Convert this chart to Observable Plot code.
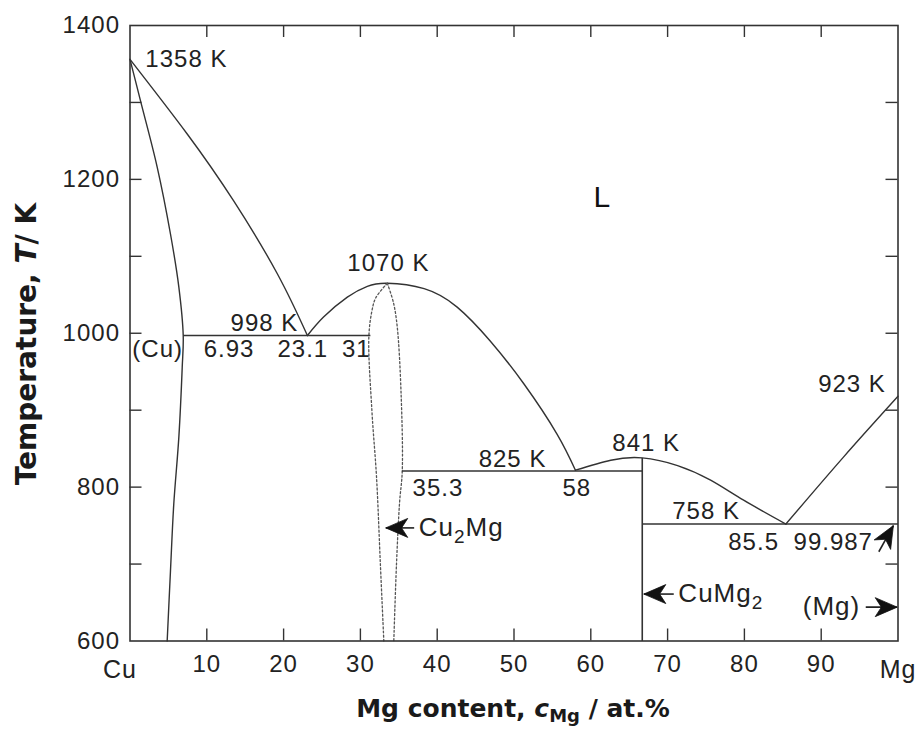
<!DOCTYPE html>
<html>
<head>
<meta charset="utf-8">
<script src="https://cdn.jsdelivr.net/npm/d3@7"></script>
<script src="https://cdn.jsdelivr.net/npm/@observablehq/plot@0.6"></script>
<style>
  html, body { margin: 0; padding: 0; background: #fff; }
  #wrap { position: relative; width: 922px; height: 738px; overflow: hidden; }
  #ytitle { position: absolute; left: 26px; top: 344px; transform: translate(-50%, -50%) rotate(-90deg);
    font-family: "DejaVu Sans", sans-serif; font-weight: bold; font-size: 28px; white-space: nowrap; color: #1a1a1a; }
  #xtitle { position: absolute; left: 513px; top: 696px; transform: translateX(-50%);
    font-family: "DejaVu Sans", sans-serif; font-weight: bold; font-size: 25px; white-space: nowrap; color: #1a1a1a; line-height: 1; }
  #xtitle sub { font-size: 0.72em; vertical-align: -0.3em; line-height: 0; }
</style>
</head>
<body>
<div id="wrap">
  <div id="chart"></div>
  <div id="ytitle">Temperature, <i>T</i>/ K</div>
  <div id="xtitle">Mg content, <i>c</i><sub>Mg</sub> / at.%</div>
</div>
<script>
// ---------- data (Mg content in at.%, temperature in K) ----------
const xTicks = [10, 20, 30, 40, 50, 60, 70, 80, 90];
const yTickLabels = [600, 800, 1000, 1200, 1400];
const yTicks = [700, 800, 900, 1000, 1100, 1200, 1300];
const cuEnd = [{x: 0, label: "Cu"}];
const mgEnd = [{x: 100, label: "Mg"}];

// liquidus of (Cu)
const cuLiquidus = [[0, 1356], [7.45, 1259], [13.5, 1172], [19.2, 1077], [23.1, 997]];
// solidus + solvus of (Cu)
const cuSolidusSolvus = [[0, 1356], [1.37, 1302], [3.54, 1216], [5.27, 1129], [6.36, 1060], [6.93, 997],
  [6.8, 956], [6.36, 865], [5.7, 778], [5.27, 691], [4.84, 600]];
// liquidus of Cu2Mg
const cu2mgLiquidus = [[23.1, 997], [25.2, 1021], [28.3, 1047], [30.9, 1061], [33.5, 1065], [38.3, 1058],
  [42.6, 1034], [46.9, 990], [51.3, 934], [55.6, 869], [58, 822]];
// liquidus of CuMg2
const cumg2Liquidus = [[58, 822], [62.6, 835], [66.7, 838], [71.3, 828], [75.6, 809], [79.9, 783], [85.4, 752]];
// liquidus of (Mg)
const mgLiquidus = [[85.4, 752], [92.9, 839], [100, 918]];
// Cu2Mg homogeneity range (dotted)
const lensLeft = [[33.5, 1065], [32.0, 1046], [31.5, 1029], [31.1, 995], [31.5, 899], [32.1, 813], [32.6, 700], [33.05, 600]];
const lensRight = [[33.5, 1065], [34.3, 1040], [34.8, 1008], [35.3, 921], [35.45, 821], [35.1, 780], [34.7, 700], [34.35, 600]];

// invariant reactions
const invariantLines = [
  {x1: 6.93, x2: 31.3, t: 997},
  {x1: 35.4, x2: 66.7, t: 821},
  {x1: 66.7, x2: 100, t: 752}
];
const compoundLines = [{x: 66.7, t1: 600, t2: 838}];

// annotations
const labels = [
  {text: "1358 K", x: 2.0, t: 1356},
  {text: "1070 K", x: 28.3, t: 1091},
  {text: "998 K", x: 13.1, t: 1013},
  {text: "(Cu)", x: 0.3, t: 979},
  {text: "6.93", x: 9.6, t: 979},
  {text: "23.1", x: 19.2, t: 979},
  {text: "31", x: 27.6, t: 979},
  {text: "923 K", x: 89.6, t: 933},
  {text: "825 K", x: 45.4, t: 836},
  {text: "841 K", x: 62.8, t: 857},
  {text: "35.3", x: 36.8, t: 799},
  {text: "58", x: 56.3, t: 799},
  {text: "758 K", x: 70.6, t: 769},
  {text: "85.5", x: 77.9, t: 728},
  {text: "99.987", x: 86.4, t: 728}
];
const phaseLabels = [
  {text: "Cu_2Mg", x: 37.6, t: 747},
  {text: "CuMg_2", x: 71.4, t: 661},
  {text: "(Mg)", x: 87.6, t: 644}
];
const liquidLabel = [{text: "L", x: 61.5, t: 1177}];

const arrows = [
  {x1: 37.0, t1: 747, x2: 33.3, t2: 747, angle: 180},
  {x1: 70.8, t1: 661, x2: 66.9, t2: 661, angle: 180},
  {x1: 95.8, t1: 644, x2: 99.9, t2: 644, angle: 0},
  {x1: 97.5, t1: 716, x2: 99.4, t2: 750, angle: -60}
];

// ---------- drawing ----------
const FONT = "'Liberation Sans', Arial, Helvetica, sans-serif";
const INK = "#333";
const TXT = "#222";

function arrowHead(angleDeg) {
  const a = angleDeg * Math.PI / 180, c = Math.cos(a), s = Math.sin(a);
  const L = 22, W = 19;
  const pts = [[0, 0], [-L, -W / 2], [-0.72 * L, 0], [-L, W / 2]].map(([px, py]) => [px * c - py * s, px * s + py * c]);
  return {
    draw(ctx) {
      ctx.moveTo(pts[0][0], pts[0][1]);
      for (let i = 1; i < pts.length; i++) ctx.lineTo(pts[i][0], pts[i][1]);
      ctx.closePath();
    }
  };
}

const curve = (data, extra = {}) => Plot.line(data, {x: d => d[0], y: d => d[1], curve: "natural", stroke: INK, strokeWidth: 1.4, ...extra});

const chart = Plot.plot({
  width: 922,
  height: 690,
  marginLeft: 129.5,
  marginRight: 24.5,
  marginTop: 25,
  marginBottom: 49.5,
  x: {domain: [0, 100], axis: null},
  y: {domain: [600, 1400], axis: null},
  style: {fontFamily: FONT, fontSize: "24px", letterSpacing: "1px", background: "#fff", overflow: "visible"},
  marks: [
    // inward ticks
    Plot.ruleX(xTicks, {x: d => d, y1: 600, y2: 600, insetBottom: 12, stroke: INK, strokeWidth: 1.4}),
    Plot.ruleX(xTicks, {x: d => d, y1: 1400, y2: 1400, insetTop: 12, stroke: INK, strokeWidth: 1.4}),
    Plot.ruleY(yTicks, {y: d => d, x1: 0, x2: 0, insetLeft: 12, stroke: INK, strokeWidth: 1.4}),
    Plot.ruleY(yTicks, {y: d => d, x1: 100, x2: 100, insetRight: 12, stroke: INK, strokeWidth: 1.4}),
    // tick labels
    Plot.text(xTicks, {x: d => d, y: 600, text: d => String(d), lineAnchor: "top", dy: 14, fontSize: 24, fill: TXT}),
    Plot.text(cuEnd, {x: "x", y: 600, text: "label", dx: -10, lineAnchor: "top", dy: 19, fontSize: 25, fill: TXT}),
    Plot.text(mgEnd, {x: "x", y: 600, text: "label", dx: 0, lineAnchor: "top", dy: 19, fontSize: 25, fill: TXT}),
    Plot.text(yTickLabels, {x: 0, y: d => d, text: d => String(d), textAnchor: "end", dx: -10, lineAnchor: "middle", fontSize: 24, fill: TXT}),
    // phase boundaries
    curve(cuLiquidus),
    curve(cuSolidusSolvus, {curve: "catmull-rom"}),
    curve(cu2mgLiquidus),
    curve(cumg2Liquidus),
    curve(mgLiquidus),
    curve(lensLeft, {curve: "catmull-rom", stroke: "#555", strokeWidth: 1.3, strokeDasharray: "2,2.2"}),
    curve(lensRight, {curve: "catmull-rom", stroke: "#555", strokeWidth: 1.3, strokeDasharray: "2,2.2"}),
    Plot.link(invariantLines, {x1: "x1", x2: "x2", y1: "t", y2: "t", stroke: INK, strokeWidth: 1.6}),
    Plot.link(compoundLines, {x1: "x", x2: "x", y1: "t1", y2: "t2", stroke: INK, strokeWidth: 1.6}),
    // annotations
    Plot.text(labels, {x: "x", y: "t", text: "text", textAnchor: "start", lineAnchor: "middle", fontSize: 24, fill: TXT}),
    Plot.text(phaseLabels, {x: "x", y: "t", text: "text", textAnchor: "start", lineAnchor: "middle", fontSize: 26, fill: TXT}),
    Plot.text(liquidLabel, {x: "x", y: "t", text: "text", lineAnchor: "middle", fontSize: 30, fill: "#111"}),
    // arrows
    Plot.link(arrows, {x1: "x1", y1: "t1", x2: "x2", y2: "t2", stroke: "#222", strokeWidth: 1.6}),
    ...arrows.map(a => Plot.dot([a], {x: "x2", y: "t2", symbol: arrowHead(a.angle), r: 10, fill: "#111", stroke: "#111", strokeWidth: 0.8})),
    Plot.frame({stroke: INK, strokeWidth: 1.6})
  ]
});

document.getElementById("chart").appendChild(chart);

// subscripts in phase names ("_x" marks a subscript character)
d3.select(chart).selectAll("text").each(function () {
  const t = this.textContent;
  if (!t || !t.includes("_") || this.children.length) return;
  const parts = t.split(/(_.)/).filter(p => p !== "");
  this.textContent = "";
  let shifted = false;
  for (const p of parts) {
    const ts = d3.select(this).append("tspan");
    if (p.startsWith("_")) {
      ts.text(p.slice(1)).attr("font-size", 19).attr("dy", 7);
      shifted = true;
    } else {
      ts.text(p);
      if (shifted) { ts.attr("dy", -7); shifted = false; }
    }
  }
});
</script>
</body>
</html>
